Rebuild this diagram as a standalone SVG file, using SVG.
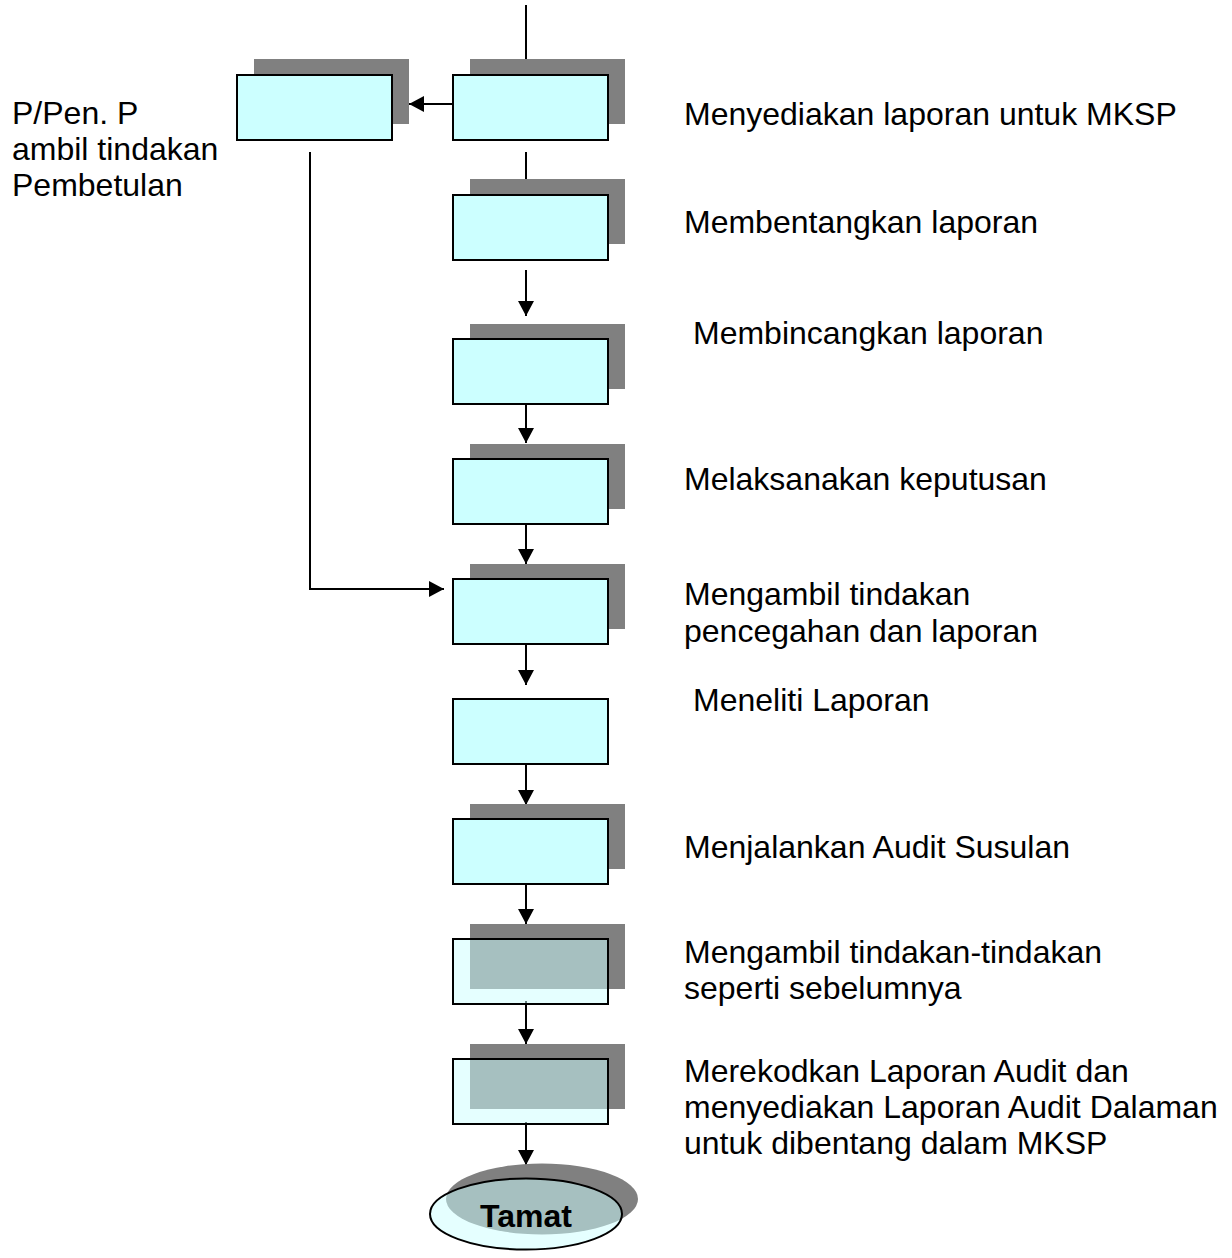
<svg xmlns="http://www.w3.org/2000/svg" width="1232" height="1258" viewBox="0 0 1232 1258">
<style>
.sh{fill:#808080}
.bx{fill:#CCFFFF;stroke:#000;stroke-width:2}
.tb{fill:#CCFFFF;fill-opacity:0.5;stroke:#000;stroke-width:2}
.ln{fill:none;stroke:#000;stroke-width:2}
text{font-family:"Liberation Sans",Arial,sans-serif;font-size:32px;fill:#000}
.b{font-weight:bold;font-size:32px}
</style>
<defs>
<marker id="ah" markerUnits="userSpaceOnUse" markerWidth="16" markerHeight="16" refX="15" refY="8" orient="auto">
<path d="M0,0 L15,8 L0,16 z" fill="#000"/>
</marker>
</defs>
<rect width="1232" height="1258" fill="#fff"/>
<g id="connectors">
<line class="ln" x1="526" y1="5" x2="526" y2="75" marker-end="url(#ah)"/>
<line class="ln" x1="453" y1="104" x2="409" y2="104" marker-end="url(#ah)"/>
<line class="ln" x1="526" y1="152" x2="526" y2="195" marker-end="url(#ah)"/>
<line class="ln" x1="526" y1="270" x2="526" y2="316" marker-end="url(#ah)"/>
<line class="ln" x1="526" y1="404" x2="526" y2="443" marker-end="url(#ah)"/>
<line class="ln" x1="526" y1="524" x2="526" y2="564" marker-end="url(#ah)"/>
<line class="ln" x1="526" y1="644" x2="526" y2="685" marker-end="url(#ah)"/>
<line class="ln" x1="526" y1="759" x2="526" y2="805" marker-end="url(#ah)"/>
<line class="ln" x1="526" y1="884" x2="526" y2="924" marker-end="url(#ah)"/>
<line class="ln" x1="526" y1="1001" x2="526" y2="1044" marker-end="url(#ah)"/>
<line class="ln" x1="526" y1="1122" x2="526" y2="1165" marker-end="url(#ah)"/>
<polyline class="ln" points="310,152 310,589 444,589" marker-end="url(#ah)"/>
</g>
<g id="n-left">
<rect class="sh" x="254" y="59" width="155" height="65"/>
<rect class="bx" x="237" y="75" width="155" height="65"/>
<text x="12" y="124">P/Pen. P</text>
<text x="12" y="160">ambil tindakan</text>
<text x="12" y="196">Pembetulan</text>
</g>
<g id="n1">
<rect class="sh" x="470" y="59" width="155" height="65"/>
<rect class="bx" x="453" y="75" width="155" height="65"/>
<text x="684" y="125">Menyediakan laporan untuk MKSP</text>
</g>
<g id="n2">
<rect class="sh" x="470" y="179" width="155" height="65"/>
<rect class="bx" x="453" y="195" width="155" height="65"/>
<text x="684" y="233">Membentangkan laporan</text>
</g>
<g id="n3">
<rect class="sh" x="470" y="324" width="155" height="65"/>
<rect class="bx" x="453" y="339" width="155" height="65"/>
<text x="693" y="344">Membincangkan laporan</text>
</g>
<g id="n4">
<rect class="sh" x="470" y="444" width="155" height="65"/>
<rect class="bx" x="453" y="459" width="155" height="65"/>
<text x="684" y="490">Melaksanakan keputusan</text>
</g>
<g id="n5">
<rect class="sh" x="470" y="564" width="155" height="65"/>
<rect class="bx" x="453" y="579" width="155" height="65"/>
<text x="684" y="605">Mengambil tindakan</text>
<text x="684" y="642">pencegahan dan laporan</text>
</g>
<g id="n6">
<rect class="bx" x="453" y="699" width="155" height="65"/>
<text x="693" y="711">Meneliti Laporan</text>
</g>
<g id="n7">
<rect class="sh" x="470" y="804" width="155" height="65"/>
<rect class="bx" x="453" y="819" width="155" height="65"/>
<text x="684" y="858">Menjalankan Audit Susulan</text>
</g>
<g id="n8">
<rect class="sh" x="470" y="924" width="155" height="65"/>
<rect class="tb" x="453" y="939" width="155" height="65"/>
<text x="684" y="963">Mengambil tindakan-tindakan</text>
<text x="684" y="999">seperti sebelumnya</text>
</g>
<g id="n9">
<rect class="sh" x="470" y="1044" width="155" height="65"/>
<rect class="tb" x="453" y="1059" width="155" height="65"/>
<text x="684" y="1082">Merekodkan Laporan Audit dan</text>
<text x="684" y="1118">menyediakan Laporan Audit Dalaman</text>
<text x="684" y="1154">untuk dibentang dalam MKSP</text>
</g>
<g id="n-end">
<ellipse class="sh" cx="542" cy="1199" rx="96" ry="35.5"/>
<ellipse class="tb" cx="526" cy="1214" rx="96" ry="35.5"/>
<text class="b" x="526" y="1227" text-anchor="middle">Tamat</text>
</g>
</svg>
